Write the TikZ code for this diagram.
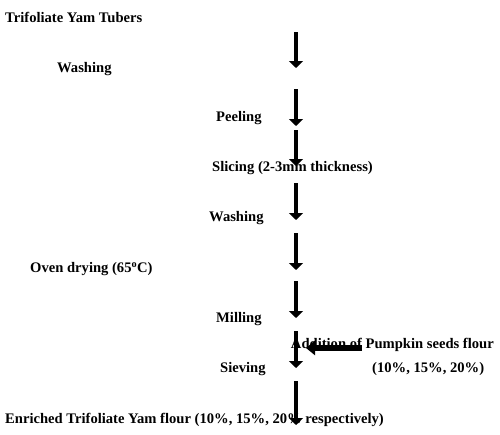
\documentclass[tikz,border=0pt]{standalone}
\usepackage{fontspec}
\setmainfont{Liberation Serif}
\usetikzlibrary{arrows.meta}
\begin{document}
\begin{tikzpicture}[x=1pt,y=-1pt,
  lbl/.style={anchor=west,inner sep=0pt,font=\fontsize{14.6}{16}\selectfont\bfseries},
  varrow/.style={line width=4.5pt,-{Triangle[width=14pt,length=7pt]}},
  harrow/.style={line width=6pt,-{Triangle[width=14pt,length=9pt]}}]
\useasboundingbox[fill=white] (0,0) rectangle (500,434);
% texts
\node[lbl] (t0) at (5,17) {Trifoliate Yam Tubers};
\node[lbl] (t1) at (57,69) {Washing};
\node[lbl] (t2) at (216,118) {Peeling};
\node[lbl] (t3) at (212,168) {Slicing (2-3mm thickness)};
\node[lbl] (t4) at (209,218) {Washing};
\node[lbl] (t5) at (30,269) {Oven drying (65\textsuperscript{o}C)};
\node[lbl] (t6) at (216,319) {Milling};
\node[lbl,anchor=east] (t7) at (494,345) {Addition of Pumpkin seeds flour};
\node[lbl] (t8) at (372,369) {(10\%, 15\%, 20\%)};
\node[lbl] (t9) at (220,369) {Sieving};
\node[lbl] (t10) at (5,420) {Enriched Trifoliate Yam flour (10\%, 15\%, 20\% respectively)};
% arrow coordinates
\coordinate (a1s) at (296,32);  \coordinate (a1e) at (296,68);
\coordinate (a2s) at (296,89);  \coordinate (a2e) at (296,126);
\coordinate (a3s) at (296,130); \coordinate (a3e) at (296,166);
\coordinate (a4s) at (296,183); \coordinate (a4e) at (296,220);
\coordinate (a5s) at (296,233); \coordinate (a5e) at (296,270);
\coordinate (a6s) at (296,281); \coordinate (a6e) at (296,318);
\coordinate (a7s) at (296,331); \coordinate (a7e) at (296,368);
\coordinate (a8s) at (296,381); \coordinate (a8e) at (296,425);
\coordinate (hs) at (362,348);  \coordinate (he) at (306,348);
\foreach \i in {1,...,8} {\draw[varrow] (a\i s) -- (a\i e);}
\draw[harrow] (hs) -- (he);
\end{tikzpicture}
\end{document}
